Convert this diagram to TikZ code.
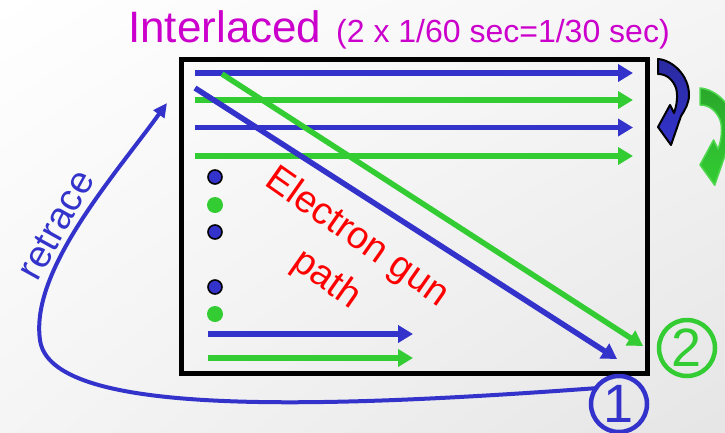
\documentclass[tikz,border=0pt]{standalone}
\usepackage{fontspec}
\setmainfont{Liberation Sans}
\usetikzlibrary{arrows.meta,shadings}
\definecolor{cblue}{HTML}{3333CC}
\definecolor{cbluedk}{HTML}{2A2AA0}
\definecolor{cgreen}{HTML}{33CC33}
\definecolor{cgreendk}{HTML}{2AA82A}
\definecolor{cgreenlt}{HTML}{4FD84F}
\definecolor{cmag}{HTML}{CC00CC}
\begin{document}
\begin{tikzpicture}[x=1pt,y=-1pt,
  scanline/.style={line width=5.5pt,-{Triangle[length=15pt,width=17pt]}},
  bluescan/.style={scanline,cblue},
  greenscan/.style={scanline,cgreen},
  bdot/.style={fill=cblue,draw=black,line width=1.6pt},
  gdot/.style={fill=cgreen},
  numcircle/.style={circle,line width=4.5pt,minimum size=56pt,inner sep=0pt,font=\fontsize{54}{54}\selectfont},
  redtext/.style={red,inner sep=0pt,font=\fontsize{38}{38}\selectfont,rotate=-35}
]
\useasboundingbox (0,0) rectangle (725,432);
\shade[upper left=white, upper right=gray!8, lower left=gray!8, lower right=gray!20] (0,0) rectangle (725,432);

% title
\node[cmag,anchor=base west,inner sep=0pt,font=\fontsize{44}{44}\selectfont] (title) at (128,42) {Interlaced};
\node[cmag,anchor=base west,inner sep=0pt,font=\fontsize{32}{32}\selectfont] (subtitle) at (336,42) {(2 x 1/60 sec=1/30 sec)};

% screen
\draw[black,line width=5pt] (181.5,59.5) rectangle (647,373);

% scan lines
\draw[bluescan] (195,73) -- (633,73);
\draw[greenscan] (195,100) -- (633,100);
\draw[bluescan] (195,127.5) -- (633,127.5);
\draw[greenscan] (195,156) -- (633,156);
\draw[bluescan] (195,88) -- (617,359);
\draw[greenscan] (222,74) -- (643,346);
\draw[bluescan] (208,334) -- (413,334);
\draw[greenscan] (208,358) -- (413,358);

% dots
\fill[bdot] (215,177) circle (7);
\fill[gdot] (215,205) circle (8);
\fill[bdot] (215,232) circle (7);
\fill[bdot] (215,287) circle (7);
\fill[gdot] (215,314) circle (8);

% text
\node[redtext] (egun) at (357,238) {Electron gun};
\node[redtext] (path) at (326,280) {path};

% retrace
\draw[cblue,line width=4pt,-{Triangle[length=14pt,width=13pt]}] (598,388) .. controls (300,410) and (50,415) .. (40,340) .. controls (30,270) and (115,175) .. (167,103);
\node[cblue,inner sep=0pt,rotate=61,font=\fontsize{38}{38}\selectfont] (retrace) at (56,225) {retrace};

% numbered circles
\node[numcircle,draw=cblue,text=cblue] (one) at (619,404) {1};
\node[numcircle,draw=cgreen,text=cgreen] (two) at (687,348) {2};

% curved arrows
\def\turnarrow{(0,0) .. controls (14,1) and (31,16) .. (31,36) .. controls (31,44) and (27,51) .. (23,57)
  -- (13,86) -- (0,68) -- (12,46) -- (16,54) .. controls (19,46) and (20,36) .. (18,29)
  .. controls (15,21) and (9,15) .. (0,15) -- cycle}
\begin{scope}
\clip (0,0) rectangle (725,432);
\begin{scope}[shift={(658,59)}]
\filldraw[draw=black,line width=2pt,line join=round,top color=cbluedk,bottom color=cblue] \turnarrow;
\end{scope}
\begin{scope}[shift={(700,88)},scale=1.13]
\filldraw[draw=cgreenlt,line width=1.5pt,line join=round,top color=cgreendk,bottom color=cgreen] \turnarrow;
\end{scope}
\end{scope}
\end{tikzpicture}
\end{document}
